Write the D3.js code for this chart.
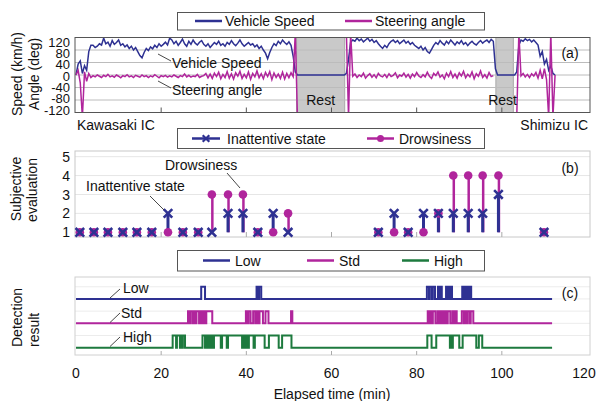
<!DOCTYPE html>
<html>
<head>
<meta charset="utf-8">
<script src="https://cdn.jsdelivr.net/npm/d3@7"></script>
<style>
  body { margin: 0; background: #fff; }
  svg { display: block; font-family: Arial, 'Liberation Sans', sans-serif; }
</style>
</head>
<body>
<div id="chart"></div>
<script>
'use strict';

// samples of speed / steering are 0.5 min apart, starting at 0 min
const sampleStep = 0.5;

const speed = [
    0, 35, 45, 5, 30, 15, 75, 95, 95, 88,
    92, 100, 96, 118, 100, 105, 92, 110, 98, 104,
    112, 95, 100, 90, 96, 85, 92, 80, 88, 75,
    62, 55, 72, 85, 78, 90, 84, 95, 88, 100,
    92, 98, 105, 96, 118, 112, 100, 108, 95, 104,
    115, 100, 92, 108, 98, 112, 102, 96, 105, 110,
    98, 92, 100, 88, 96, 104, 98, 108, 95, 100,
    92, 104, 98, 110, 100, 94, 102, 112, 100, 92,
    98, 104, 96, 100, 90, 96, 85, 92, 80, 70,
    52, 72, 88, 100, 94, 108, 100, 112, 104, 98,
    106, 95, 60, 10, 0, 0, 0, 0, 0, 0,
    0, 0, 0, 0, 0, 0, 0, 0, 0, 0,
    0, 0, 0, 0, 0, 0, 0, 5, 50, 105,
    112, 108, 118, 110, 115, 106, 112, 118, 108, 114,
    104, 110, 100, 92, 85, 95, 88, 100, 108, 112,
    104, 110, 100, 106, 112, 102, 108, 98, 104, 95,
    90, 85, 92, 80, 88, 75, 70, 82, 95, 104,
    98, 110, 102, 96, 108, 100, 112, 104, 96, 106,
    100, 110, 98, 104, 94, 102, 108, 100, 96, 104,
    110, 102, 108, 112, 104, 114, 108, 20, 0, 0,
    0, 0, 0, 0, 0, 0, 0, 10, 95, 112,
    108, 116, 110, 114, 106, 112, 104, 96, 60, 75,
    35, 50, 15, 30, 5, 0
];

const steering = [
    0, 15, -25, -135, 10, -20, 5, -8, -2, -6,
    0, -4, -8, -1, -5, 2, -6, -3, -7, 0,
    -4, -9, -2, -5, 1, -6, -3, -8, -1, -4,
    -7, 0, -5, -2, -8, -3, -6, 1, -4, -9,
    -2, -5, -1, -7, -3, -6, 0, -4, -8, -2,
    -5, 3, -6, -1, -7, -3, -5, 2, -8, -4,
    -2, 5, -9, 3, -11, 6, -5, 9, -12, 2,
    -8, 11, -10, 4, -13, 7, -4, 12, -11, 2,
    -9, 10, -14, 5, -6, 13, -9, 4, -12, 8,
    -5, 11, -15, 6, -8, 3, -11, 9, -13, 5,
    -9, 7, -5, 135, -135, null, null, null, null, null,
    null, null, null, null, null, null, null, null, null, null,
    null, null, null, null, null, null, null, 135, -135, 135,
    -4, 3, -8, 0, -5, 6, -10, -2, 4, -7,
    1, -9, 5, -3, -6, 2, -8, 4, -5, -1,
    7, -9, 0, -4, 6, -7, 2, -10, 3, -5,
    8, -3, -8, 1, -6, 9, -4, -11, 5, -2,
    10, -7, 0, -12, 6, -5, 11, -8, 3, -10,
    7, -3, 12, -9, 2, -6, 10, -12, 4, -4,
    13, -8, 1, -10, 8, -5, -2, null, null, null,
    null, null, null, null, null, null, null, -135, 135, -3,
    5, -6, 2, -8, 4, -3, 8, -10, 15, -12,
    20, -15, -135, 135, -135, 0
];

const rests = [[51.8, 63.1], [98.6, 102.7]];

const evalTimes = [0.9, 4.2, 7.5, 11.0, 14.3, 17.8, 21.6, 25.1, 28.7, 31.9, 35.7, 39.2, 42.7, 46.3, 49.8,
    71.0, 74.7, 78.0, 81.6, 85.1, 88.6, 92.1, 95.5, 99.2, 109.9];
const inattentive = [1, 1, 1, 1, 1, 1, 2, 1, 1, 1, 2, 2, 1, 2, 1, 1, 2, 1, 2, 2, 2, 2, 2, 3, 1];
const drowsiness = [1, 1, 1, 1, 1, 1, 1, 1, 1, 3, 3, 3, 1, 1, 2, 1, 1, 1, 1, 2, 4, 4, 4, 4, 1];

// detection pulses [start, end] in min
const lowPulses = [
    [29.4, 30.3], [42.4, 42.8], [43.0, 43.5],
    [82.4, 82.9], [83.1, 83.6], [83.8, 84.3], [85.0, 85.3], [85.5, 85.9],
    [86.9, 87.3], [87.5, 87.9], [88.0, 88.3], [90.7, 91.0], [91.2, 91.6],
    [91.8, 92.2], [92.4, 92.8]
];
const stdPulses = [
    [26.3, 26.7], [26.9, 27.4], [27.6, 28.0], [28.3, 28.9], [29.1, 29.5], [29.8, 30.2], [30.6, 32.0],
    [39.9, 40.3], [40.5, 41.0], [41.6, 42.1], [42.4, 42.8], [43.1, 43.9], [44.5, 45.2], [50.5, 50.8],
    [82.6, 83.0], [83.2, 83.6], [83.8, 84.4], [84.9, 85.3], [85.5, 85.8], [86.1, 86.5], [86.7, 87.0],
    [87.3, 87.9], [88.4, 88.8], [89.0, 89.4], [90.6, 91.1], [91.3, 91.7], [92.0, 92.5], [92.7, 93.3]
];
const highPulses = [
    [22.7, 23.5], [23.7, 24.4], [24.6, 24.9], [25.1, 25.6],
    [29.7, 30.3], [30.5, 30.9], [31.1, 31.5], [31.8, 32.2], [32.4, 34.0], [34.3, 35.4],
    [35.7, 39.0], [39.3, 39.6], [39.9, 40.3], [40.6, 41.7], [42.0, 44.3], [45.3, 47.6], [48.4, 50.6],
    [82.5, 83.5], [84.6, 87.8], [88.1, 88.3], [88.5, 90.0], [90.8, 94.0], [94.6, 95.4]
];
const detectEnd = 111.8;

const xTicks = [0, 20, 40, 60, 80, 100, 120];
const angleTicks = [120, 80, 40, 0, -40, -80, -120];
const evalTicks = [5, 4, 3, 2, 1];

(function() {

    const navy = '#2e3192';
    const magenta = '#b0259c';
    const green = '#1d7a3e';
    const fs = 14;

    const svg = d3.select('#chart').append('svg')
        .attr('width', 597)
        .attr('height', 401);

    const x = d3.scaleLinear().domain([0, 120]).range([76, 587]);
    const boxL = 75;
    const boxR = 590;

    const text = (g, str, tx, ty, anchor) => g.append('text')
        .attr('x', tx).attr('y', ty)
        .attr('font-size', fs)
        .attr('fill', '#111')
        .attr('text-anchor', anchor || 'start')
        .text(str);

    const leader = (g, x1, y1, x2, y2) => g.append('line')
        .attr('x1', x1).attr('y1', y1).attr('x2', x2).attr('y2', y2)
        .attr('stroke', '#333').attr('stroke-width', 0.9);

    const legendBox = (y, h) => svg.append('rect')
        .attr('x', 177.5).attr('y', y).attr('width', 307).attr('height', h)
        .attr('fill', '#fff').attr('stroke', '#555');

    const vTitle = (str, tx, ty, anchor) => svg.append('text')
        .attr('transform', `translate(${tx},${ty}) rotate(-90)`)
        .attr('font-size', fs).attr('fill', '#111')
        .attr('text-anchor', anchor || 'middle')
        .text(str);

    // ---------- panel (a) ----------
    const yA = d3.scaleLinear().domain([-120, 120]).range([112.5, 37.5]);
    const labelA = d3.scaleLinear().domain([-120, 120]).range([110, 42]);
    const gA = svg.append('g');

    gA.selectAll('rect.rest').data(rests).enter().append('rect')
        .attr('x', d => x(d[0]))
        .attr('width', d => x(d[1]) - x(d[0]))
        .attr('y', yA(120))
        .attr('height', yA(-120) - yA(120))
        .attr('fill', '#c9c9c9')
        .attr('stroke', '#a8a8a8');

    gA.selectAll('line.grid').data(angleTicks).enter().append('line')
        .attr('x1', boxL).attr('x2', boxR)
        .attr('y1', d => yA(d)).attr('y2', d => yA(d))
        .attr('stroke', '#bcbcbc');

    svg.append('clipPath').attr('id', 'clipA').append('rect')
        .attr('x', boxL).attr('y', yA(120))
        .attr('width', boxR - boxL).attr('height', yA(-120) - yA(120));

    const lineA = d3.line()
        .defined(d => d !== null)
        .x((d, i) => x(i * sampleStep))
        .y(d => yA(d));

    gA.append('path').datum(speed)
        .attr('d', lineA)
        .attr('fill', 'none').attr('stroke', navy).attr('stroke-width', 1.5)
        .attr('clip-path', 'url(#clipA)');

    gA.append('path').datum(steering)
        .attr('d', lineA)
        .attr('fill', 'none').attr('stroke', magenta).attr('stroke-width', 1.5)
        .attr('clip-path', 'url(#clipA)');

    gA.selectAll('line.tick').data(xTicks.slice(1, -1)).enter().append('line')
        .attr('x1', d => x(d)).attr('x2', d => x(d))
        .attr('y1', yA(-120)).attr('y2', yA(-120) - 5)
        .attr('stroke', '#555');

    gA.append('rect')
        .attr('x', boxL).attr('y', yA(120))
        .attr('width', boxR - boxL).attr('height', yA(-120) - yA(120))
        .attr('fill', 'none').attr('stroke', '#555');

    gA.selectAll('text.ylab').data(angleTicks).enter().append('text')
        .attr('x', 70).attr('y', d => labelA(d))
        .attr('dy', '0.36em')
        .attr('text-anchor', 'end')
        .attr('font-size', 13).attr('fill', '#111')
        .text(d => d);

    text(gA, 'Vehicle Speed', 172, 68);
    leader(gA, 158, 54, 171, 61);
    text(gA, 'Steering angle', 172, 95);
    leader(gA, 158, 81, 171, 88);
    text(gA, 'Rest', (x(rests[0][0]) + x(rests[0][1])) / 2, 105, 'middle');
    text(gA, 'Rest', (x(rests[1][0]) + x(rests[1][1])) / 2 - 2, 105, 'middle');
    text(gA, '(a)', 570, 58, 'middle');
    text(gA, 'Kawasaki IC', 77, 130);
    text(gA, 'Shimizu IC', 588, 130, 'end');

    vTitle('Speed (km/h)', 22, 74);
    vTitle('Angle (deg)', 39, 74);

    legendBox(12.5, 17.5);
    svg.append('line').attr('x1', 195).attr('x2', 222).attr('y1', 21).attr('y2', 21)
        .attr('stroke', navy).attr('stroke-width', 2.5);
    text(svg, 'Vehicle Speed', 225, 26);
    svg.append('line').attr('x1', 345).attr('x2', 372).attr('y1', 21).attr('y2', 21)
        .attr('stroke', magenta).attr('stroke-width', 2.5);
    text(svg, 'Steering angle', 375, 26);

    // ---------- panel (b) ----------
    const yB = d3.scaleLinear().domain([0.75, 5.3]).range([237, 151]);
    const gB = svg.append('g');

    gB.selectAll('line.grid').data(evalTicks.slice(0, -1)).enter().append('line')
        .attr('x1', boxL).attr('x2', boxR)
        .attr('y1', d => yB(d)).attr('y2', d => yB(d))
        .attr('stroke', '#e6e6e6');

    gB.append('rect')
        .attr('x', boxL).attr('y', 151)
        .attr('width', boxR - boxL).attr('height', 86)
        .attr('fill', 'none').attr('stroke', '#c8c8c8');

    gB.selectAll('line.tick').data(xTicks.slice(1, -1)).enter().append('line')
        .attr('x1', d => x(d)).attr('x2', d => x(d))
        .attr('y1', 237).attr('y2', 232)
        .attr('stroke', '#aaa');

    const evalData = evalTimes.map((t, i) => ({t: t, ina: inattentive[i], dro: drowsiness[i]}));

    gB.selectAll('line.dstem').data(evalData.filter(d => d.dro > 1)).enter().append('line')
        .attr('x1', d => x(d.t) + 0.5).attr('x2', d => x(d.t) + 0.5)
        .attr('y1', yB(1)).attr('y2', d => yB(d.dro))
        .attr('stroke', magenta).attr('stroke-width', 2.5);

    gB.selectAll('line.istem').data(evalData.filter(d => d.ina > 1)).enter().append('line')
        .attr('x1', d => x(d.t)).attr('x2', d => x(d.t))
        .attr('y1', yB(1)).attr('y2', d => yB(d.ina))
        .attr('stroke', navy).attr('stroke-width', 3);

    gB.selectAll('circle.dro').data(evalData).enter().append('circle')
        .attr('cx', d => x(d.t)).attr('cy', d => yB(d.dro))
        .attr('r', 4.3).attr('fill', magenta);

    const crossPath = (s) => `M${-s},${-s}L${s},${s}M${-s},${s}L${s},${-s}`;
    gB.selectAll('path.ina').data(evalData).enter().append('path')
        .attr('transform', d => `translate(${x(d.t)},${yB(d.ina)})`)
        .attr('d', crossPath(4.3))
        .attr('stroke', navy).attr('stroke-width', 2.6).attr('fill', 'none');

    gB.selectAll('text.ylab').data(evalTicks).enter().append('text')
        .attr('x', 70).attr('y', d => yB(d))
        .attr('dy', '0.36em')
        .attr('text-anchor', 'end')
        .attr('font-size', fs).attr('fill', '#111')
        .text(d => d);

    text(gB, 'Drowsiness', 165, 170);
    leader(gB, 227, 173, 240, 188);
    text(gB, 'Inattentive state', 86, 191);
    leader(gB, 150, 196, 164, 210);
    text(gB, '(b)', 570, 173, 'middle');

    vTitle('Subjective', 21, 189);
    vTitle('evaluation', 37, 190);

    legendBox(128.5, 20);
    svg.append('line').attr('x1', 192).attr('x2', 220).attr('y1', 138.5).attr('y2', 138.5)
        .attr('stroke', navy).attr('stroke-width', 2.5);
    svg.append('path').attr('transform', 'translate(206,138.5)').attr('d', crossPath(3.3))
        .attr('stroke', navy).attr('stroke-width', 2.2);
    text(svg, 'Inattentive state', 227, 143.5);
    svg.append('line').attr('x1', 367).attr('x2', 394).attr('y1', 138.5).attr('y2', 138.5)
        .attr('stroke', magenta).attr('stroke-width', 2.5);
    svg.append('circle').attr('cx', 380.5).attr('cy', 138.5).attr('r', 3.5).attr('fill', magenta);
    text(svg, 'Drowsiness', 399, 143.5);

    // ---------- panel (c) ----------
    const yC = d3.scaleLinear().domain([-0.6, 5.8]).range([355, 277]);
    const gC = svg.append('g');

    gC.selectAll('line.grid').data([1, 2, 3, 4, 5]).enter().append('line')
        .attr('x1', boxL).attr('x2', boxR)
        .attr('y1', d => yC(d)).attr('y2', d => yC(d))
        .attr('stroke', '#ececec');

    gC.append('rect')
        .attr('x', boxL).attr('y', 277)
        .attr('width', boxR - boxL).attr('height', 78)
        .attr('fill', 'none').attr('stroke', '#d0d0d0');

    gC.selectAll('line.tick').data(xTicks.slice(1, -1)).enter().append('line')
        .attr('x1', d => x(d)).attr('x2', d => x(d))
        .attr('y1', 355).attr('y2', 351)
        .attr('stroke', '#aaa');

    const detections = [
        {pulses: lowPulses, base: 4, color: navy},
        {pulses: stdPulses, base: 2, color: magenta},
        {pulses: highPulses, base: 0, color: green}
    ];

    const stepPoints = (s) => {
        const pts = [[0, s.base]];
        for (const p of s.pulses) {
            pts.push([p[0], s.base], [p[0], s.base + 1], [p[1], s.base + 1], [p[1], s.base]);
        }
        pts.push([detectEnd, s.base]);
        return pts;
    };

    const lineC = d3.line().x(d => x(d[0])).y(d => yC(d[1]));
    gC.selectAll('path.det').data(detections).enter().append('path')
        .attr('d', d => lineC(stepPoints(d)))
        .attr('fill', 'none')
        .attr('stroke', d => d.color)
        .attr('stroke-width', 2)
        .attr('stroke-linejoin', 'miter');

    text(gC, 'Low', 123, 293);
    leader(gC, 110, 298, 120, 289);
    text(gC, 'Std', 121, 317.5);
    leader(gC, 110, 322.5, 120, 313);
    text(gC, 'High', 123, 341.5);
    leader(gC, 110, 346.5, 120, 337);
    text(gC, '(c)', 570, 298, 'middle');

    vTitle('Detection', 22, 347, 'start');
    vTitle('result', 39, 347, 'start');

    legendBox(250.5, 20.5);
    const legC = [
        {name: 'Low', color: navy, x0: 203},
        {name: 'Std', color: magenta, x0: 307},
        {name: 'High', color: green, x0: 402}
    ];
    for (const item of legC) {
        svg.append('line').attr('x1', item.x0).attr('x2', item.x0 + 27)
            .attr('y1', 260.5).attr('y2', 260.5)
            .attr('stroke', item.color).attr('stroke-width', 2.5);
        text(svg, item.name, item.x0 + 32, 265.5);
    }

    // x axis labels (the last one kept inside the page edge)
    svg.selectAll('text.xlab').data(xTicks).enter().append('text')
        .attr('x', d => Math.min(x(d), 584)).attr('y', 378)
        .attr('text-anchor', 'middle')
        .attr('font-size', fs).attr('fill', '#111')
        .text(d => d);

    text(svg, 'Elapsed time (min)', 332, 399, 'middle');

}());
</script>
</body>
</html>
